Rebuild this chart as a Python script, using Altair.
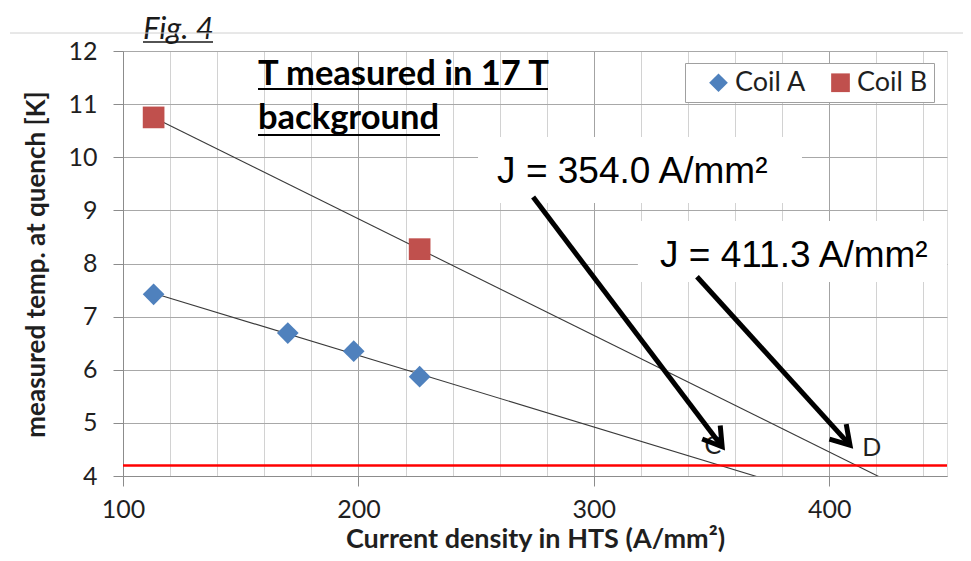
import altair as alt
import pandas as pd

# ---- data ----
coil_a_j = [113, 170, 198, 226]
coil_a_t = [7.42, 6.69, 6.35, 5.87]
coil_b_j = [113, 226]
coil_b_t = [10.75, 8.27]
coil_names = ["Coil A", "Coil B"]
coil_colors = ["#4F81BD", "#C0504D"]
coil_shapes = ["diamond", "square"]

quench_level = [4.2]

x_domain = [100, 450]
y_domain = [4, 12]
x_grid_values = list(range(100, 441, 20))
y_tick_values = list(range(4, 13))

# annotations (data coordinates)
j_labels = ["J = 354.0 A/mm²", "J = 411.3 A/mm²"]
j_label_x = [258.9, 328.1]
j_label_y = [9.515, 7.93]
box_x1 = [250.8, 318.7]
box_x2 = [388.4, 450.0]
box_y1 = [10.38, 8.80]
box_y2 = [9.14, 7.65]
arrow_x1 = [274.2, 343.8]
arrow_y1 = [9.25, 7.75]
arrow_x2 = [354.5, 408.8]
arrow_y2 = [4.55, 4.58]
arrow_angle = [323, 318]
point_labels = ["C", "D"]
point_label_x = [350.5, 418.0]
point_label_y = [4.56, 4.53]

title_lines = ["T measured in 17 T", "background"]
fig_label = ["Fig. 4"]

# ---- tables ----
pts = pd.DataFrame({
    "J": coil_a_j + coil_b_j,
    "T": coil_a_t + coil_b_t,
    "coil": [coil_names[0]] * len(coil_a_j) + [coil_names[1]] * len(coil_b_j),
})
ann = pd.DataFrame({
    "label": j_labels, "lx": j_label_x, "ly": j_label_y,
    "bx1": box_x1, "bx2": box_x2, "by1": box_y1, "by2": box_y2,
    "ax1": arrow_x1, "ay1": arrow_y1, "ax2": arrow_x2, "ay2": arrow_y2,
    "ang": arrow_angle, "pl": point_labels, "px": point_label_x, "py": point_label_y,
})
red = pd.DataFrame({"T": quench_level})
one = pd.DataFrame({"a": [0]})

xs = alt.Scale(domain=x_domain, nice=False, zero=False)
ys = alt.Scale(domain=y_domain, nice=False, zero=False)

LBL = "#1f1f1f"
FONT = "Lato"

x_axis = alt.Axis(
    values=x_grid_values,
    labelExpr="datum.value % 100 === 0 ? datum.label : ''",
    gridColor={"condition": {"test": "datum.value % 100 === 0", "value": "#a3a3a3"}, "value": "#d2d2d2"},
    tickOpacity={"condition": {"test": "datum.value % 100 === 0", "value": 1}, "value": 0},
    tickSize=10, tickColor="#8c8c8c", domainColor="#8c8c8c",
    labelFont=FONT, labelFontSize=25, labelColor=LBL, labelPadding=11, labelFlush=False,
    title="Current density in HTS (A/mm²)", titleFont=FONT, titleFontSize=27,
    titleFontWeight="bold", titleColor=LBL, titleY=71, titleBaseline="alphabetic",
)
y_axis = alt.Axis(
    values=y_tick_values, gridColor="#a8a8a8",
    tickSize=10, tickColor="#8c8c8c", domainColor="#8c8c8c",
    labelFont=FONT, labelFontSize=25, labelColor=LBL, labelPadding=16, labelFlush=False,
    title="measured temp. at quench [K]", titleFont=FONT, titleFontSize=26,
    titleFontWeight="bold", titleColor=LBL, titlePadding=18, titleY=213,
)

base = alt.Chart(pts)

trend = base.transform_regression(
    "J", "T", groupby=["coil"], extent=[min(coil_a_j + coil_b_j), x_domain[1]]
).mark_line(color="#3a3a3a", strokeWidth=1.1, clip=True).encode(
    x=alt.X("J:Q", scale=xs, axis=x_axis),
    y=alt.Y("T:Q", scale=ys, axis=y_axis),
    detail="coil:N",
)

points = base.mark_point(filled=True, size=470, opacity=1).encode(
    x=alt.X("J:Q", scale=xs),
    y=alt.Y("T:Q", scale=ys),
    color=alt.Color("coil:N", scale=alt.Scale(domain=coil_names, range=coil_colors),
                    legend=alt.Legend(title=None, orient="none", legendX=562, legendY=12,
                                      direction="horizontal", fillColor="white",
                                      strokeColor="#a0a0a0", padding=6, symbolOffset=14,
                                      labelFont=FONT, labelFontSize=27, labelColor=LBL,
                                      symbolSize=350, labelOffset=3, columnPadding=6,
                                      symbolStrokeWidth=0)),
    shape=alt.Shape("coil:N", scale=alt.Scale(domain=coil_names, range=coil_shapes)),
)

redline = alt.Chart(red).mark_rule(color="#ff0000", strokeWidth=2.5).encode(
    y=alt.Y("T:Q", scale=ys)
)

boxes = alt.Chart(ann).mark_rect(color="white", opacity=1).encode(
    x=alt.X("bx1:Q", scale=xs), x2="bx2:Q",
    y=alt.Y("by1:Q", scale=ys), y2="by2:Q",
)

jtext = alt.Chart(ann).mark_text(font="Liberation Sans", fontSize=37, align="left",
                                 baseline="alphabetic", color="black").encode(
    x=alt.X("lx:Q", scale=xs), y=alt.Y("ly:Q", scale=ys), text="label:N"
)

cd = alt.Chart(ann).mark_text(font=FONT, fontSize=25, align="center",
                              baseline="middle", color=LBL).encode(
    x=alt.X("px:Q", scale=xs), y=alt.Y("py:Q", scale=ys), text="pl:N"
)

shafts = alt.Chart(ann).mark_rule(color="black", strokeWidth=5).encode(
    x=alt.X("ax1:Q", scale=xs), y=alt.Y("ay1:Q", scale=ys),
    x2="ax2:Q", y2="ay2:Q",
)

heads = alt.Chart(ann).mark_point(
    shape="M -0.62 -1 L 0 0 L 0.62 -1", filled=False, size=1325,
    strokeWidth=5, color="black", opacity=1, strokeJoin="miter"
).encode(
    x=alt.X("ax2:Q", scale=xs), y=alt.Y("ay2:Q", scale=ys),
    angle=alt.Angle("ang:Q", scale=None),
)

TS = 34.5
title1 = alt.Chart(one).mark_text(text=title_lines[0], font=FONT, fontSize=TS, fontWeight="bold",
                                  align="left", baseline="alphabetic", color="black").encode(
    x=alt.value(135), y=alt.value(34))
title2 = alt.Chart(one).mark_text(text=title_lines[1], font=FONT, fontSize=TS, fontWeight="bold",
                                  align="left", baseline="alphabetic", color="black").encode(
    x=alt.value(135), y=alt.value(78))
ul1 = alt.Chart(one).mark_rule(color="black", strokeWidth=2).encode(
    x=alt.value(135), x2=alt.value(425), y=alt.value(38))
ul2 = alt.Chart(one).mark_rule(color="black", strokeWidth=2).encode(
    x=alt.value(135), x2=alt.value(317), y=alt.value(84))

fig = alt.Chart(one).mark_text(text=fig_label[0], font=FONT, fontSize=31, fontStyle="italic",
                               align="left", baseline="alphabetic", color="#1a1a1a").encode(
    x=alt.value(20), y=alt.value(-12))
fig_ul = alt.Chart(one).mark_rule(color="#1a1a1a", strokeWidth=1.3).encode(
    x=alt.value(20), x2=alt.value(90), y=alt.value(-9))
topline = alt.Chart(one).mark_rule(color="#d0d0d0", strokeWidth=1).encode(
    x=alt.value(-113), x2=alt.value(850), y=alt.value(-18))

chart = alt.layer(
    trend, redline, points, boxes, jtext, cd, shafts, heads,
    title1, title2, ul1, ul2, fig, fig_ul, topline,
).properties(
    width=824, height=425,
    autosize=alt.AutoSizeParams(type="none"),
    padding={"left": 115, "top": 43, "right": 16, "bottom": 77},
).configure_view(stroke=None).configure(background="white")

chart.save("out.html", embed_options={"renderer": "svg", "actions": False})
